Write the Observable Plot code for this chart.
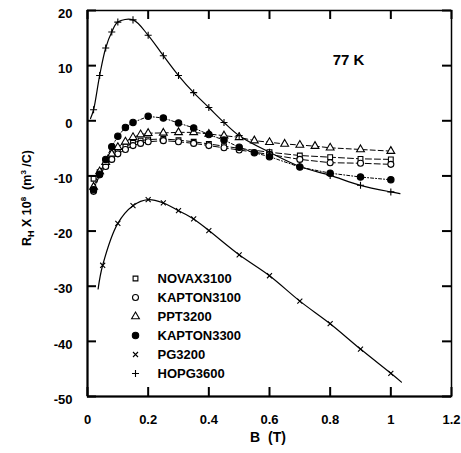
<!DOCTYPE html>
<html><head><meta charset="utf-8">
<script src="https://cdn.jsdelivr.net/npm/d3@7"></script>
<script src="https://cdn.jsdelivr.net/npm/@observablehq/plot@0.6"></script>
<style>body{margin:0;background:#fff}</style>
</head><body><div id="chart"></div>
<script>
// ---- data (B in tesla, R_H x 10^8 in m^3/C) ----
const seriesNames = ["NOVAX3100","KAPTON3100","PPT3200","KAPTON3300","PG3200","HOPG3600"];
const B_NOVAX = [0.02,0.04,0.06,0.08,0.10,0.125,0.15,0.175,0.20,0.25,0.30,0.35,0.40,0.45,0.50,0.60,0.70,0.80,0.90,1.00];
const NOVAX   = [-10.5,-9.3,-8.1,-6.7,-5.5,-4.7,-4.0,-3.6,-3.4,-3.3,-3.5,-3.8,-4.2,-4.6,-5.0,-5.7,-6.3,-6.6,-6.9,-7.0];
const B_KAP31 = [0.02,0.04,0.06,0.08,0.10,0.125,0.15,0.175,0.20,0.25,0.30,0.35,0.40,0.45,0.50,0.60,0.70,0.80,0.90,1.00];
const KAP31   = [-12.8,-9.8,-8.3,-7.0,-6.0,-5.2,-4.5,-4.1,-3.8,-3.6,-3.8,-4.1,-4.5,-4.9,-5.3,-6.1,-7.0,-7.6,-7.7,-7.9];
const B_PPT   = [0.02,0.04,0.06,0.08,0.10,0.125,0.15,0.175,0.20,0.25,0.30,0.35,0.40,0.45,0.50,0.55,0.60,0.65,0.70,0.75,0.80,0.90,1.00];
const PPT     = [-12.0,-9.2,-7.5,-6.0,-4.8,-3.8,-3.0,-2.5,-2.25,-2.2,-2.1,-2.1,-2.4,-2.7,-3.0,-3.6,-3.9,-4.2,-4.4,-4.6,-4.9,-5.2,-5.5];
const B_KAP33 = [0.02,0.04,0.06,0.08,0.10,0.125,0.15,0.20,0.25,0.30,0.35,0.40,0.45,0.50,0.55,0.60,0.70,0.80,0.90,1.00];
const KAP33   = [-12.5,-9.7,-7.0,-4.7,-2.8,-1.2,-0.3,0.8,0.5,-0.4,-1.3,-2.5,-3.5,-4.8,-5.8,-6.5,-8.4,-9.5,-10.2,-10.7];
const B_PG    = [0.05,0.10,0.15,0.20,0.25,0.30,0.35,0.40,0.50,0.60,0.70,0.80,0.90,1.00];
const PG      = [-26.2,-18.6,-15.4,-14.3,-14.9,-16.3,-17.8,-19.9,-24.3,-28.1,-32.7,-36.8,-41.4,-45.8];
const B_HOPG  = [0.02,0.04,0.06,0.08,0.10,0.15,0.20,0.25,0.30,0.35,0.40,0.45,0.50,0.60,0.70,0.80,0.90,1.00];
const HOPG    = [2.0,8.2,13.2,16.1,17.9,18.3,15.5,11.8,8.2,5.1,2.4,-0.3,-2.7,-5.7,-8.3,-9.9,-11.7,-12.9];
// fitted-curve ends (curves extend past the markers)
const B_PG_FIT = [0.035, 1.035];
const PG_FIT   = [-30.5, -47.4];
const B_HOPG_FIT = [0.01, 1.03];
const HOPG_FIT   = [0.4, -13.2];
const xTicks = [0,0.2,0.4,0.6,0.8,1,1.2];
const yTicks = [20,10,0,-10,-20,-30,-40,-50];
const tempLabel = "77 K";

const rows = (B, R) => B.map((b, i) => ({B: b, R: R[i]}));
const withEnds = (B, R, Bf, Rf) => [{B: Bf[0], R: Rf[0]}, ...rows(B, R), {B: Bf[1], R: Rf[1]}];

const styles = [
  {B: B_NOVAX, R: NOVAX, symbol: "square",   fill: "white", dash: "6,3", curve: "linear", r: 2.7},
  {B: B_KAP31, R: KAP31, symbol: "circle",   fill: "white", dash: "6,3", curve: "linear", r: 3.0},
  {B: B_PPT,   R: PPT,   symbol: "triangle", fill: "white", dash: "5,3", curve: "linear", r: 2.9},
  {B: B_KAP33, R: KAP33, symbol: "circle",   fill: "black", dash: "3,2,1,2", curve: "linear", r: 3.2},
  {B: B_PG,    R: PG,    symbol: "times",    fill: "none",  dash: null, curve: "catmull-rom", r: 2.4, fit: [B_PG_FIT, PG_FIT]},
  {B: B_HOPG,  R: HOPG,  symbol: "plus",     fill: "none",  dash: null, curve: "catmull-rom", r: 2.4, fit: [B_HOPG_FIT, HOPG_FIT]}
];

const ML = 87, MR = 10, MT = 10, MB = 57, W = 461, H = 453;
const xDom = [0, 1.2], yDom = [-50, 20];
// tick length in px, expressed in data units of each axis
const T = 9;
const tx = T * (xDom[1] - xDom[0]) / (W - ML - MR);
const ty = T * (yDom[1] - yDom[0]) / (H - MT - MB);

const marks = [];
styles.forEach(s => {
  const lineData = s.fit ? withEnds(s.B, s.R, s.fit[0], s.fit[1]) : rows(s.B, s.R);
  marks.push(Plot.line(lineData, {x: "B", y: "R", stroke: "black", strokeWidth: s.dash ? 1 : 1.2,
    strokeDasharray: s.dash, curve: s.curve}));
});
styles.forEach(s => {
  marks.push(Plot.dot(rows(s.B, s.R), {x: "B", y: "R", symbol: s.symbol, r: s.r,
    stroke: "black", strokeWidth: 1.1, fill: s.fill}));
});

// legend (inside plot, lower-left)
styles.forEach((s, i) => {
  const dy = 268 + i * 19;
  marks.push(Plot.dot([0], {frameAnchor: "top-left", dx: 135 - ML, dy, symbol: s.symbol,
    r: s.r, stroke: "black", strokeWidth: 1.1, fill: s.fill}));
  marks.push(Plot.text([seriesNames[i]], {frameAnchor: "top-left", dx: 157 - ML, dy, text: d => d,
    textAnchor: "start", lineAnchor: "middle", fontSize: 13, fontWeight: "bold", fill: "black"}));
});

marks.push(Plot.text([tempLabel], {frameAnchor: "top-left", dx: 348 - ML, dy: 50, text: d => d,
  textAnchor: "middle", lineAnchor: "middle", fontSize: 15, fontWeight: "bold", fill: "black"}));

// tick labels
marks.push(Plot.axisX(xTicks, {anchor: "bottom", tickSize: 0, tickPadding: 18, tickFormat: d => String(d), label: null, fontWeight: "bold", fontSize: 13}));
marks.push(Plot.axisY(yTicks, {anchor: "left", tickSize: 0, tickPadding: 15, tickFormat: d => String(d), label: null, fontWeight: "bold", fontSize: 13, dy: 3}));
marks.push(Plot.frame({stroke: "black", strokeWidth: 1.5}));
marks.push(Plot.ruleX([0], {stroke: "black", strokeWidth: 2}));
marks.push(Plot.ruleY([-50], {stroke: "black", strokeWidth: 2}));
// inward tick marks on all four sides (drawn last, on top)
const tickStyle = {stroke: "black", strokeWidth: 2};
marks.push(Plot.ruleX(xTicks, {x: d => d, y1: yDom[0], y2: yDom[0] + ty, ...tickStyle}));
marks.push(Plot.ruleX(xTicks, {x: d => d, y1: yDom[1], y2: yDom[1] - ty, ...tickStyle}));
marks.push(Plot.ruleY(yTicks, {y: d => d, x1: xDom[0], x2: xDom[0] + tx, ...tickStyle}));
marks.push(Plot.ruleY(yTicks, {y: d => d, x1: xDom[1], x2: xDom[1] - tx, ...tickStyle}));

const chart = Plot.plot({
  width: W, height: H,
  marginLeft: ML, marginRight: MR, marginTop: MT, marginBottom: MB,
  x: {domain: xDom},
  y: {domain: yDom},
  style: {fontFamily: "'Liberation Sans', Arial, sans-serif", color: "black", background: "white"},
  marks
});

const svg = d3.select(chart);
// axis titles with sub/superscripts
svg.append("text")
  .attr("x", 268).attr("y", 442)
  .attr("text-anchor", "middle")
  .attr("font-family", "'Liberation Sans', Arial, sans-serif")
  .attr("font-size", 14).attr("font-weight", "bold").attr("fill", "black")
  .text("B\u00a0\u00a0(T)");
const yt = svg.append("text")
  .attr("transform", "translate(27,198) rotate(-90)")
  .attr("text-anchor", "middle").attr("dy", "0.35em")
  .attr("font-family", "'Liberation Sans', Arial, sans-serif")
  .attr("font-size", 12.5).attr("font-weight", "bold").attr("fill", "black");
yt.append("tspan").text("R");
yt.append("tspan").attr("font-size", 9).attr("dy", 3).text("H");
yt.append("tspan").attr("dy", -3).text(" X 10");
yt.append("tspan").attr("font-size", 8).attr("dy", -5).text("8");
yt.append("tspan").attr("dy", 5).text("\u00a0\u00a0(m");
yt.append("tspan").attr("font-size", 8).attr("dy", -5).text("3");
yt.append("tspan").attr("dy", 5).text(" /C)");

document.getElementById("chart").appendChild(chart);
</script>
</body></html>
